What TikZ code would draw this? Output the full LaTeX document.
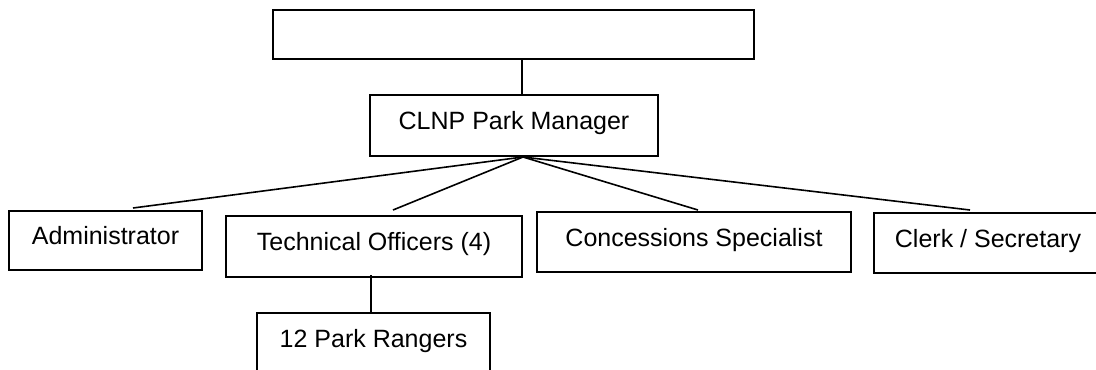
\documentclass[tikz,border=0pt]{standalone}
\usepackage{fontspec}
\setmainfont{Liberation Sans}
\usetikzlibrary{calc}

\begin{document}
\begin{tikzpicture}[
    x=0.75pt, y=-0.75pt,
    % 1. box of the chart
    box/.style={
        draw=black,
        line width=1.5pt,
        inner sep=0pt,
        text=black,
        font=\fontsize{18.75}{22}\selectfont,
        text height=13.5pt,
        text depth=7pt,
        align=center
    },
    boxsize/.style 2 args={
        minimum width=#1*0.75pt,
        minimum height=#2*0.75pt
    },
    % 2. connector lines
    link/.style={
        draw=black,
        line width=1.5pt
    },
    fanlink/.style={
        draw=black,
        line width=1.2pt
    }
]
    \clip (0,0) rectangle (1096,369);
    \fill[white] (0,0) rectangle (1096,369);

    % --- 1. nodes ---
    \node[box, boxsize={481}{49}] (head) at (513.5,34.5) {};
    \node[box, boxsize={288}{61}] (mgr) at (514,125.5) {CLNP Park Manager};

    \node[box, boxsize={193}{59}] (admin) at (105.5,240.5) {Administrator};
    \node[box, boxsize={296}{61}] (tech) at (374,246.5) {Technical Officers (4)};
    \node[box, boxsize={314}{60}] (conc) at (694,242) {Concessions Specialist};
    \node[box, boxsize={228}{60}] (clerk) at (988,243) {Clerk / Secretary};

    \node[box, boxsize={233}{60}] (rangers) at (373.5,343) {12 Park Rangers};

    % --- 2. connectors ---
    \draw[link] ($(head.south)+(8.5,0)$) -- ($(mgr.north)+(8,0)$);

    \coordinate (fan) at ($(mgr.south)+(9,0)$);
    \draw[fanlink] (fan) -- ($(admin.north)+(27.5,-2)$);
    \draw[fanlink] (fan) -- ($(tech.north)+(19,-5)$);
    \draw[fanlink] (fan) -- ($(conc.north)+(4,-1)$);
    \draw[fanlink] (fan) -- ($(clerk.north)+(-18,-2)$);

    \draw[link] ($(tech.south)+(-3,-3)$) -- ($(rangers.north)+(-2.5,0)$);

\end{tikzpicture}
\end{document}
